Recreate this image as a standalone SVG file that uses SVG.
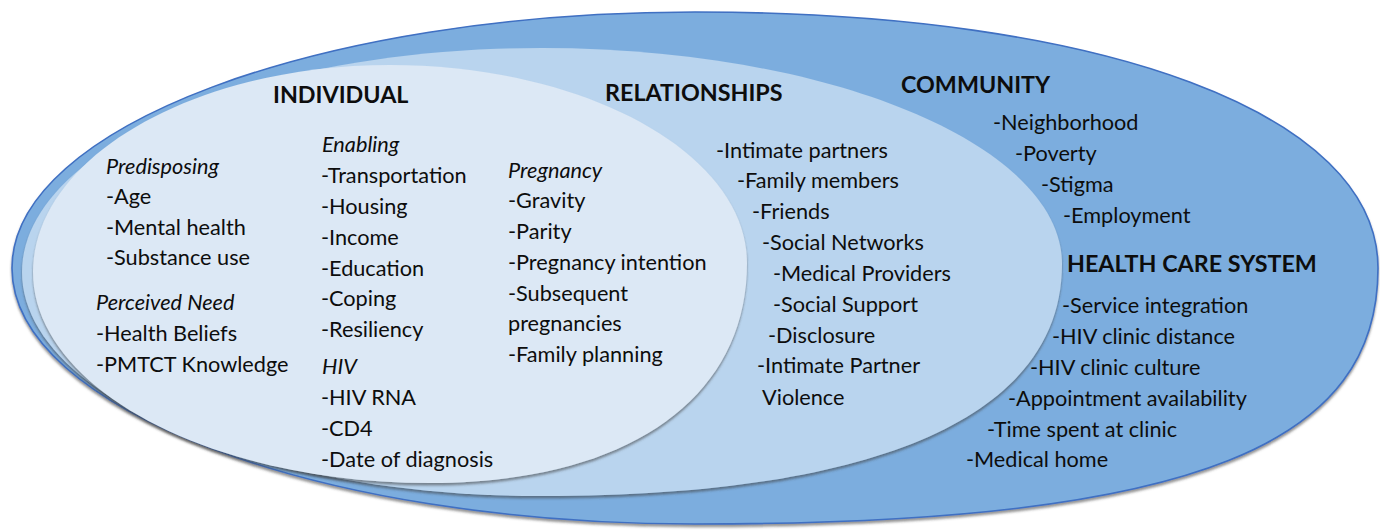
<svg xmlns="http://www.w3.org/2000/svg" width="1380" height="530" viewBox="0 0 1380 530">
<defs>
<filter id="sh" x="-5%" y="-5%" width="110%" height="115%">
<feDropShadow dx="0" dy="2.5" stdDeviation="1.3" flood-color="#404040" flood-opacity="0.55"/>
</filter>
</defs>
<style>
text{font-family:Lato,"Open Sans","Liberation Sans",sans-serif;font-size:21.7px;fill:#0d0d0d}
.t{font-weight:bold;font-size:23.3px}
.i{font-style:italic}
.outer{fill:#7badde;stroke:#3f6fc2;stroke-width:1.6}
.mid{fill:#b9d4ee}
.inner{fill:#dce8f5}
</style>
<rect width="1380" height="530" fill="#ffffff"/>
<g id="community">
<path class="outer" filter="url(#sh)" d="M695,12 C1105,12 1378,114 1378,268 C1378,440 1207,524 695,524 C318,524 12,409 12,268 C12,127 318,12 695,12 Z"/>
<text class="t" x="901" y="93">COMMUNITY</text>
<text x="993" y="130">-Neighborhood</text>
<text x="1015" y="161">-Poverty</text>
<text x="1041" y="192">-Stigma</text>
<text x="1063" y="223">-Employment</text>
</g>
<g id="health-care-system">
<text class="t" x="1067" y="272">HEALTH CARE SYSTEM</text>
<text x="1062" y="313">-Service integration</text>
<text x="1052" y="344">-HIV clinic distance</text>
<text x="1030" y="375">-HIV clinic culture</text>
<text x="1008" y="406">-Appointment availability</text>
<text x="987" y="437">-Time spent at clinic</text>
<text x="966" y="467">-Medical home</text>
</g>
<g id="relationships">
<path class="mid" filter="url(#sh)" d="M542,48 C829,48 1062,145 1062,264 C1062,415 880,496 542,496 C255,496 22,396 22,272 C22,148 255,48 542,48 Z"/>
<text class="t" x="605" y="101">RELATIONSHIPS</text>
<text x="716" y="158">-Intimate partners</text>
<text x="737" y="188">-Family members</text>
<text x="752" y="219">-Friends</text>
<text x="762" y="250">-Social Networks</text>
<text x="773" y="281">-Medical Providers</text>
<text x="773" y="312">-Social Support</text>
<text x="768" y="343">-Disclosure</text>
<text x="757" y="373">-Intimate Partner</text>
<text x="762" y="405">Violence</text>
</g>
<g id="individual">
<path class="inner" filter="url(#sh)" d="M390,65 C587,65 747,154 747,263 C747,399 627,483 430,483 C211,483 33,389 33,272 C33,158 193,65 390,65 Z"/>
<text class="t" x="273" y="103">INDIVIDUAL</text>
<text class="i" x="106" y="174">Predisposing</text>
<text x="106" y="204">-Age</text>
<text x="106" y="235">-Mental health</text>
<text x="106" y="265">-Substance use</text>
<text class="i" x="96" y="310">Perceived Need</text>
<text x="96" y="341">-Health Beliefs</text>
<text x="96" y="372">-PMTCT Knowledge</text>
<text class="i" x="322" y="152">Enabling</text>
<text x="321" y="183">-Transportation</text>
<text x="321" y="214">-Housing</text>
<text x="321" y="245">-Income</text>
<text x="321" y="276">-Education</text>
<text x="321" y="306">-Coping</text>
<text x="321" y="337">-Resiliency</text>
<text class="i" x="322" y="374">HIV</text>
<text x="321" y="405">-HIV RNA</text>
<text x="321" y="436">-CD4</text>
<text x="321" y="467">-Date of diagnosis</text>
<text class="i" x="508" y="178">Pregnancy</text>
<text x="508" y="208">-Gravity</text>
<text x="508" y="239">-Parity</text>
<text x="508" y="270">-Pregnancy intention</text>
<text x="508" y="301">-Subsequent</text>
<text x="508" y="331">pregnancies</text>
<text x="508" y="362">-Family planning</text>
</g>
</svg>
